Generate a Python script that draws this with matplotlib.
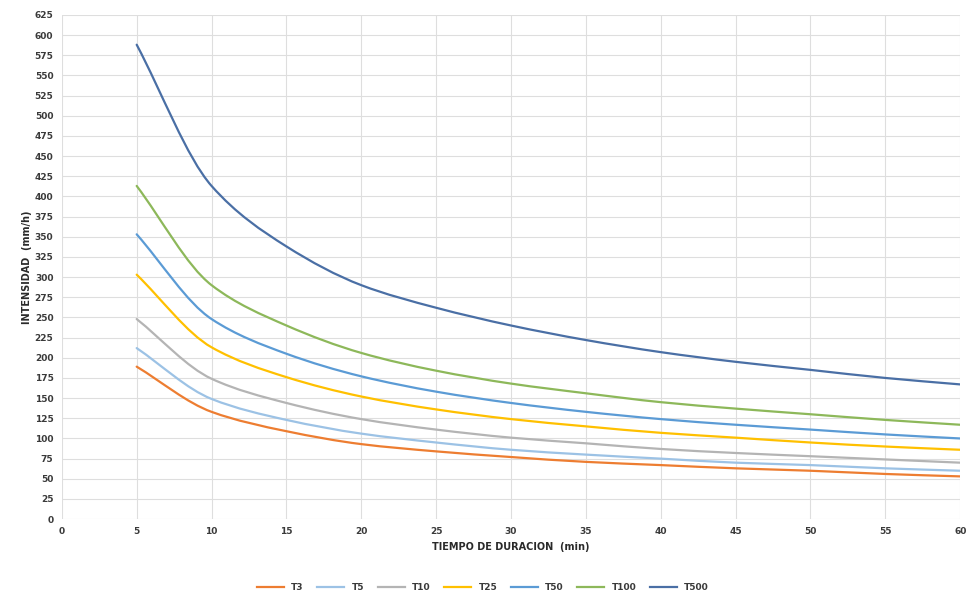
import matplotlib.pyplot as plt
from matplotlib.path import Path
from matplotlib.patches import PathPatch
from matplotlib.lines import Line2D

# Duracion (min) y curvas IDF por periodo de retorno
durations = [5, 10, 15, 20, 25, 30, 35, 40, 45, 50, 55, 60]
t3 = [189, 133, 109, 93, 84, 77, 71, 67, 63, 60, 56, 53]
t5 = [212, 149, 123, 106, 95, 86, 80, 75, 70, 67, 63, 60]
t10 = [248, 174, 144, 124, 111, 101, 94, 87, 82, 78, 74, 70]
t25 = [303, 213, 176, 152, 136, 124, 115, 107, 101, 95, 90, 86]
t50 = [353, 248, 205, 177, 158, 144, 133, 124, 117, 111, 105, 100]
t100 = [413, 290, 240, 206, 184, 168, 156, 145, 137, 130, 123, 117]
t500 = [588, 413, 338, 290, 262, 240, 222, 207, 195, 185, 175, 167]

labels = ['T3', 'T5', 'T10', 'T25', 'T50', 'T100', 'T500']
series = [t3, t5, t10, t25, t50, t100, t500]
colors = ['#ED7D31', '#9CC2E5', '#B4B4B4', '#FFC000', '#5B9BD5', '#8DB85A', '#4A6FA5']


def smooth_path(xs, ys):
    """Smoothed line like Excel's: cubic Bezier through the data points
    (tangents = harmonic mean of neighbouring slopes, so no wobble)."""
    n = len(xs)
    d = [(ys[i + 1] - ys[i]) / (xs[i + 1] - xs[i]) for i in range(n - 1)]
    m = [d[0]]
    for i in range(1, n - 1):
        if d[i - 1] * d[i] > 0:
            m.append(2 / (1 / d[i - 1] + 1 / d[i]))
        else:
            m.append(0.0)
    m.append(d[-1])
    verts = [(xs[0], ys[0])]
    codes = [Path.MOVETO]
    for i in range(n - 1):
        h = (xs[i + 1] - xs[i]) / 3
        verts += [(xs[i] + h, ys[i] + m[i] * h),
                  (xs[i + 1] - h, ys[i + 1] - m[i + 1] * h),
                  (xs[i + 1], ys[i + 1])]
        codes += [Path.CURVE4] * 3
    return Path(verts, codes)


fig = plt.figure(figsize=(9.66, 5.94), dpi=100)
ax = fig.add_axes([0.064, 0.126, 0.930, 0.849])

handles = []
for vals, lab, col in zip(series, labels, colors):
    patch = PathPatch(smooth_path(durations, vals), facecolor='none', edgecolor=col,
                      lw=1.6, capstyle='round')
    ax.add_patch(patch)
    handles.append(Line2D([], [], color=col, lw=1.6, label=lab))

ax.set_xlim(0, 60)
ax.set_ylim(0, 625)
ax.set_xticks(range(0, 61, 5))
ax.set_yticks(range(0, 626, 25))
ax.grid(True, color='#DEDEDE', lw=0.8)
ax.set_axisbelow(True)
for s in ax.spines.values():
    s.set_visible(False)
ax.tick_params(length=0, labelsize=6.5, labelcolor='#3A3A3A', pad=6)
for t in ax.get_xticklabels() + ax.get_yticklabels():
    t.set_fontweight('bold')

ax.set_xlabel('TIEMPO DE DURACION  (min)', fontsize=7, fontweight='bold', color='#2A2A2A', labelpad=4)
ax.set_ylabel('INTENSIDAD  (mm/h)', fontsize=7, fontweight='bold', color='#2A2A2A', labelpad=2)

leg = fig.legend(handles=handles, loc='lower center', ncol=7, frameon=False, fontsize=6.5,
                 bbox_to_anchor=(0.5, -0.01), handlelength=3, columnspacing=1.5)
for t in leg.get_texts():
    t.set_color('#3A3A3A')
    t.set_fontweight('bold')

fig.savefig('out.png', dpi=100)
